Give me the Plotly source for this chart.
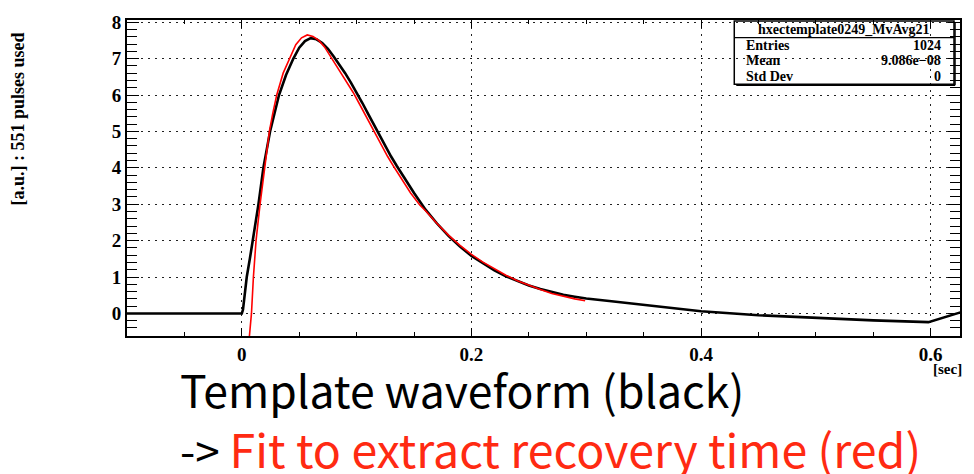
import plotly.graph_objects as go

# Averaged pulse template (time [sec], amplitude [a.u.])
template_t = [-0.1, -0.05, 0.0, 0.001, 0.002, 0.003, 0.0043, 0.007, 0.0096, 0.012,
              0.0145, 0.0188, 0.0246, 0.0285, 0.0324, 0.0385, 0.0449, 0.050, 0.055,
              0.060, 0.065, 0.07, 0.075, 0.08, 0.085, 0.09, 0.095, 0.10, 0.105, 0.11,
              0.115, 0.12, 0.125, 0.13, 0.135, 0.14, 0.145, 0.15, 0.16, 0.17, 0.18,
              0.19, 0.20, 0.21, 0.22, 0.23, 0.24, 0.25, 0.26, 0.27, 0.28, 0.29, 0.30,
              0.32, 0.35, 0.38, 0.40, 0.45, 0.50, 0.55, 0.598, 0.622, 0.626]
template_v = [0, 0, 0, 0.1, 0.35, 0.65, 1.0, 1.5, 2.0, 2.5,
              3.0, 4.0, 5.0, 5.5, 6.0, 6.55, 7.0, 7.3, 7.48,
              7.56, 7.53, 7.43, 7.27, 7.06, 6.84, 6.6, 6.34, 6.07, 5.78, 5.48,
              5.18, 4.88, 4.59, 4.31, 4.05, 3.79, 3.55, 3.31, 2.85, 2.47, 2.13,
              1.84, 1.58, 1.37, 1.18, 1.02, 0.89, 0.77, 0.67, 0.58, 0.51, 0.46, 0.41,
              0.34, 0.24, 0.13, 0.06, -0.05, -0.13, -0.19, -0.24, 0.0, 0.03]

# Pulse-shape fit used to extract the recovery time
fit_t = [0.0064, 0.0084, 0.0101, 0.0124, 0.0159, 0.0197, 0.024, 0.027, 0.0304, 0.036,
         0.042, 0.047, 0.052, 0.057, 0.062, 0.067, 0.072, 0.077, 0.082, 0.087,
         0.092, 0.097, 0.102, 0.107, 0.112, 0.117, 0.122, 0.127, 0.132, 0.137,
         0.142, 0.147, 0.155, 0.16, 0.17, 0.18, 0.19, 0.20, 0.21, 0.22,
         0.23, 0.24, 0.25, 0.26, 0.27, 0.28, 0.29, 0.299]
fit_v = [-0.7, 0, 1, 2, 3, 4, 5, 5.5, 6, 6.6,
         7.0, 7.38, 7.57, 7.65, 7.61, 7.5, 7.32, 7.07, 6.84, 6.6,
         6.34, 6.07, 5.78, 5.48, 5.18, 4.88, 4.59, 4.31, 4.05, 3.79,
         3.55, 3.31, 2.98, 2.82, 2.47, 2.15, 1.87, 1.62, 1.41, 1.22,
         1.05, 0.9, 0.77, 0.66, 0.55, 0.47, 0.4, 0.35]

x_ticks = [0, 0.2, 0.4, 0.6]
x_tick_labels = ["0", "0.2", "0.4", "0.6"]
y_ticks = [0, 1, 2, 3, 4, 5, 6, 7, 8]

stats_title = "hxectemplate0249_MvAvg21"
stats_names = ["Entries", "Mean", "Std Dev"]
stats_values = ["1024", "9.086e\u221208", "0"]

# frame geometry in pixels
W, H = 974, 474
L, R, T, B = 127, 961, 12, 336


def px(x):
    return (x - L) / (R - L)


def py(y):
    return (B - y) / (B - T)


SERIF = "Liberation Serif"

fig = go.Figure()
fig.add_trace(go.Scatter(x=template_t, y=template_v, mode="lines",
                         line=dict(color="black", width=2.6),
                         showlegend=False, hoverinfo="skip"))
fig.add_trace(go.Scatter(x=fit_t, y=fit_v, mode="lines",
                         line=dict(color="#ff0000", width=1.6),
                         showlegend=False, hoverinfo="skip"))

axis_common = dict(showline=True, linecolor="black", linewidth=2, mirror="allticks",
                   ticks="inside", tickcolor="black", tickwidth=1,
                   showgrid=True, gridcolor="#222", gridwidth=1.3, griddash="2px,5px",
                   zeroline=False,
                   tickfont=dict(family=SERIF, size=19, color="black", weight="bold"))

fig.update_xaxes(range=[-0.1, 0.6255], tickvals=x_ticks, ticktext=x_tick_labels,
                 ticklen=8,
                 minor=dict(dtick=0.05, tick0=0, ticklen=4, tickcolor="black", ticks="inside",
                            showgrid=False),
                 **axis_common)
fig.update_yaxes(range=[-0.62, 8.06], tickvals=y_ticks, ticklen=12,
                 minor=dict(dtick=0.2, tick0=0, ticklen=10, tickcolor="black", ticks="inside",
                            showgrid=False),
                 **axis_common)

annotations = []
# axis titles
annotations.append(dict(x=px(18), y=py(114), xref="paper", yref="paper",
                        text="[a.u.] : 551 pulses used", textangle=-90, showarrow=False,
                        font=dict(family=SERIF, size=18, color="black", weight="bold"),
                        xanchor="center", yanchor="middle"))
annotations.append(dict(x=px(948), y=py(370), xref="paper", yref="paper",
                        text="[sec]", showarrow=False,
                        font=dict(family=SERIF, size=15, color="black", weight="bold"),
                        xanchor="center", yanchor="middle"))

# statistics box
bx0, bx1, by0, by1, bsep = 735, 955, 13, 78, 30
shapes = [
    dict(type="rect", xref="paper", yref="paper", x0=px(bx0), x1=px(bx1), y0=py(by1), y1=py(by0),
         line=dict(color="black", width=1.5), fillcolor="rgba(0,0,0,0)"),
    dict(type="line", xref="paper", yref="paper", x0=px(bx0), x1=px(bx1), y0=py(bsep), y1=py(bsep),
         line=dict(color="black", width=1.2)),
    dict(type="line", xref="paper", yref="paper", x0=px(bx0 + 2), x1=px(bx1 + 1), y0=py(by1 + 1),
         y1=py(by1 + 1), line=dict(color="black", width=1.5)),
    dict(type="line", xref="paper", yref="paper", x0=px(bx1 + 1), x1=px(bx1 + 1), y0=py(by1 + 1),
         y1=py(by0 + 2), line=dict(color="black", width=1.5)),
]
annotations.append(dict(x=px((bx0 + bx1) / 2), y=py(21.5), xref="paper", yref="paper",
                        text=stats_title, showarrow=False,
                        font=dict(family=SERIF, size=14, color="black", weight="bold"),
                        xanchor="center", yanchor="middle"))
for i, (name, val) in enumerate(zip(stats_names, stats_values)):
    yy = 38 + 16 * i
    annotations.append(dict(x=px(745), y=py(yy), xref="paper", yref="paper", text=name,
                            showarrow=False, xanchor="left", yanchor="middle",
                            font=dict(family=SERIF, size=14, color="black", weight="bold")))
    annotations.append(dict(x=px(944), y=py(yy), xref="paper", yref="paper", text=val,
                            showarrow=False, xanchor="right", yanchor="middle",
                            font=dict(family=SERIF, size=14, color="black", weight="bold")))

# caption
CAP = "Noto Sans CJK JP"
annotations.append(dict(x=px(178), y=py(390), xref="paper", yref="paper",
                        text="Template waveform (black)", showarrow=False,
                        xanchor="left", yanchor="middle",
                        font=dict(family=CAP, size=44.5, color="black")))
annotations.append(dict(x=px(178), y=py(450), xref="paper", yref="paper",
                        text="-&gt; <span style='color:#ff2a12;font-size:46.5px'>"
                             "Fit to extract recovery time (red)</span>",
                        showarrow=False, xanchor="left", yanchor="middle",
                        font=dict(family=CAP, size=44, color="black")))

fig.update_layout(width=W, height=H, margin=dict(l=L, r=W - R, t=T, b=H - B),
                  paper_bgcolor="white", plot_bgcolor="white",
                  annotations=annotations, shapes=shapes, showlegend=False)

fig.write_html("out.html")
